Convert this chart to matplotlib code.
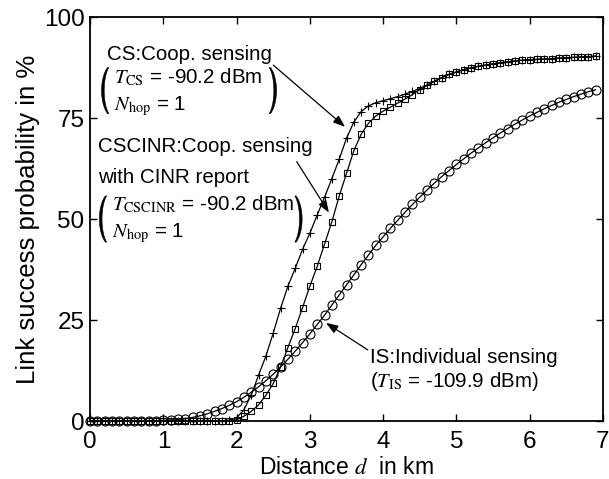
import numpy as np
import matplotlib
matplotlib.use('Agg')
import matplotlib.pyplot as plt

plt.rcParams['font.family'] = ['Liberation Sans', 'DejaVu Sans']
plt.rcParams['mathtext.fontset'] = 'stix'

# distance grid in km (markers every 0.1 km)
distance = np.round(np.arange(70) * 0.1, 1)

# link success probability in %
is_prob = [0, 0, 0, 0, 0, 0, 0, 0, 0.05, 0.1,
           0.15, 0.25, 0.4, 0.6, 0.9, 1.3, 1.8, 2.4, 3.1, 3.9,
           4.8, 5.9, 7.1, 8.5, 10.0, 11.6, 13.4, 15.3, 17.3, 19.4,
           21.6, 23.9, 26.2, 28.7, 31.2, 33.7, 36.2, 38.7, 41.1, 43.5,
           45.6, 47.7, 49.7, 51.7, 53.6, 55.4, 57.2, 58.9, 60.5, 62.0,
           63.5, 64.9, 66.3, 67.6, 68.9, 70.1, 71.3, 72.4, 73.5, 74.5,
           75.5, 76.4, 77.3, 78.1, 78.9, 79.6, 80.3, 80.9, 81.5, 82.0]

cs_prob = [0, 0, 0, 0, 0, 0, 0, 0, 0, 0,
           0, 0, 0, 0, 0, 0, 0, 0, 0.05, 0.2,
           0.8, 2.8, 6.5, 11.4, 16.1, 21.8, 27.9, 33.4, 37.8, 42.5,
           46.5, 51.0, 55.4, 60.0, 64.8, 70.0, 74.0, 76.6, 78.0, 78.8,
           79.3, 79.8, 80.3, 80.9, 81.6, 82.3, 83.2, 84.1, 85.0, 85.8,
           86.4, 87.0, 87.4, 87.8, 88.1, 88.4, 88.7, 88.9, 89.1, 89.3,
           89.4, 89.5, 89.6, 89.7, 89.8, 89.9, 90.0, 90.1, 90.2, 90.3]

cscinr_prob = [0, 0, 0, 0, 0, 0, 0, 0, 0, 0,
               0, 0, 0, 0, 0, 0, 0, 0, 0, 0,
               0.3, 1.2, 2.4, 4.0, 6.4, 9.3, 13.4, 18.2, 22.9, 28.1,
               33.4, 38.3, 43.8, 49.3, 55.7, 61.3, 66.9, 71.0, 73.7, 75.5,
               76.7, 77.7, 78.7, 79.7, 80.8, 82.0, 83.1, 84.1, 85.0, 85.8,
               86.4, 87.0, 87.4, 87.8, 88.1, 88.4, 88.7, 88.9, 89.1, 89.3,
               89.4, 89.5, 89.6, 89.7, 89.8, 89.9, 90.0, 90.1, 90.2, 90.3]

fig = plt.figure(figsize=(6.09, 4.79), dpi=100)
ax = fig.add_axes([0.148, 0.121, 0.842, 0.8435])

ax.plot(distance, is_prob, color='k', lw=0.9, marker='o', ms=6.5,
        mfc='none', mew=0.8, clip_on=False)
ax.plot(distance, cscinr_prob, color='k', lw=0.9, marker='s', ms=4.9,
        mfc='none', mew=0.8, clip_on=False)
ax.plot(distance, cs_prob, color='k', lw=0.9, marker='+', ms=6.3,
        mew=0.8, clip_on=False)

ax.set_xlim(0, 7)
ax.set_ylim(0, 100)
ax.set_xticks(range(8))
ax.set_yticks([0, 25, 50, 75, 100])
ax.tick_params(direction='in', top=True, right=True, length=5, width=1,
               labelsize=17.5)
ax.tick_params(axis='x', pad=7)
ax.tick_params(axis='y', pad=4)
for s in ax.spines.values():
    s.set_linewidth(1.3)

ax.set_xlabel('Distance $d$  in km', fontsize=16.5, labelpad=2)
ax.set_ylabel('Link success probability in %', fontsize=18.5, labelpad=3)

fs = 14.8
arrow = dict(arrowstyle='-|>,head_length=0.6,head_width=0.22', color='k',
             lw=0.9, mutation_scale=12, shrinkA=0, shrinkB=0)

# CS block
ax.text(0.23, 89.4, 'CS:Coop. sensing', fontsize=fs, va='baseline')
ax.annotate('', xy=(3.48, 72.8), xytext=(2.50, 88.1), arrowprops=arrow)
ax.text(0.32, 83.7, r'$T_{\rm CS}$ = -90.2 dBm', fontsize=fs, va='baseline')
ax.text(0.32, 77.0, r'$N_{\rm hop}$ = 1', fontsize=fs, va='baseline')

# CSCINR block
ax.text(0.11, 66.6, 'CSCINR:Coop. sensing', fontsize=fs, va='baseline')
ax.text(0.11, 58.9, 'with CINR report', fontsize=fs, va='baseline')
ax.annotate('', xy=(3.26, 51.6), xytext=(2.82, 64.2), arrowprops=arrow)
ax.text(0.30, 52.2, r'$T_{\rm CSCINR}$ = -90.2 dBm', fontsize=fs,
        va='baseline')
ax.text(0.30, 45.5, r'$N_{\rm hop}$ = 1', fontsize=fs, va='baseline')

# IS block
ax.text(3.82, 14.4, 'IS:Individual sensing', fontsize=fs, va='baseline')
ax.text(3.82, 8.4, r'($T_{\rm IS}$ = -109.9 dBm)', fontsize=fs,
        va='baseline')
ax.annotate('', xy=(3.22, 24.3), xytext=(3.79, 17.6), arrowprops=arrow)


# big parentheses drawn as thin crescents (thick middle, thin ends)
def paren(cx, cy, side):
    t = np.radians(np.linspace(-60, 60, 40))
    sgn = -1 if side == 'left' else 1
    b = 6.6
    xo = cx + sgn * 0.164 * np.cos(t)
    xi = cx + sgn * 0.128 * np.cos(t)
    y = cy + b * np.sin(t)
    ax.fill(np.concatenate([xo, xi[::-1]]), np.concatenate([y, y[::-1]]),
            color='k', lw=0.4, clip_on=False)


paren(0.32, 81.8, 'left')
paren(2.38, 81.8, 'right')
paren(0.29, 50.0, 'left')
paren(2.73, 50.0, 'right')

fig.savefig('out.png', dpi=100)
